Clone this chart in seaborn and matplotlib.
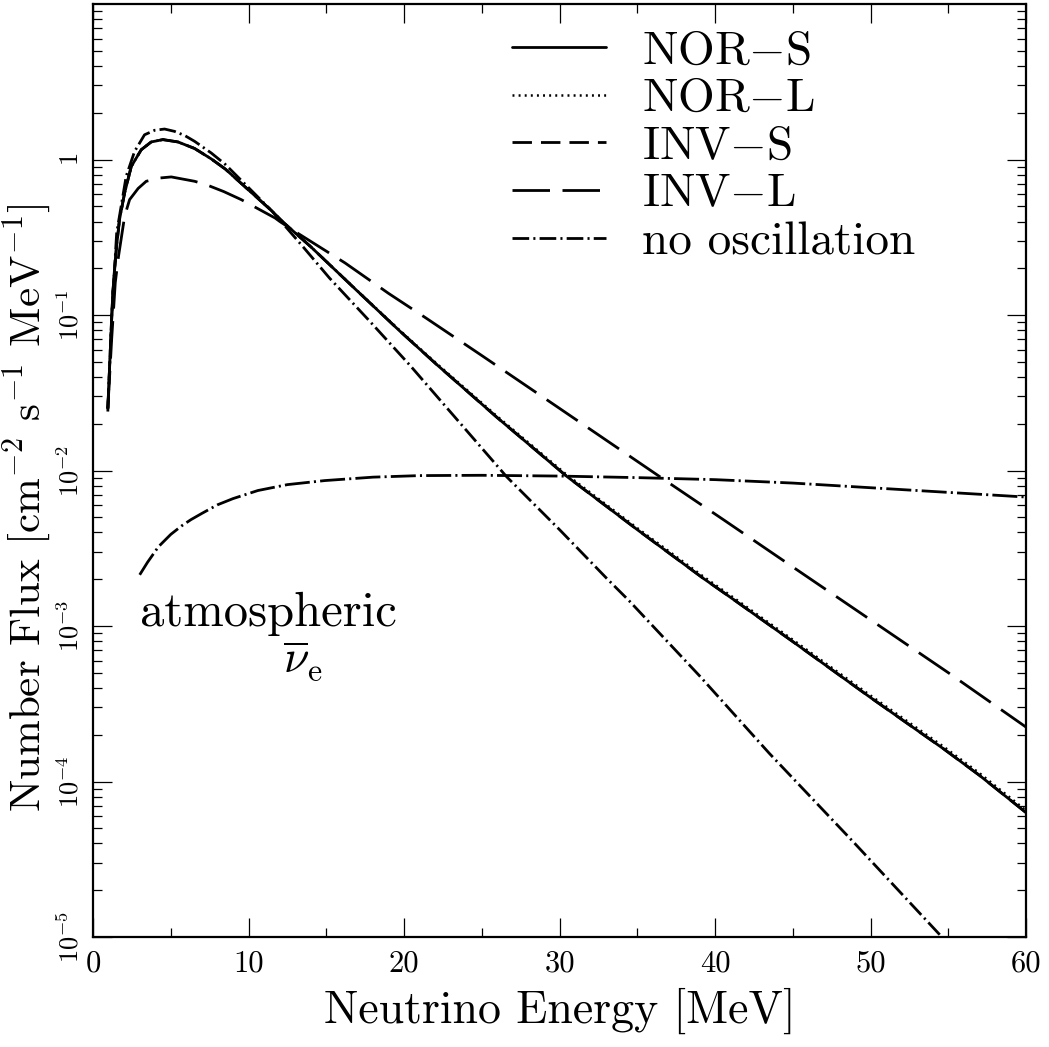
import numpy as np
import pandas as pd
import matplotlib
matplotlib.use("Agg")
import matplotlib.pyplot as plt
import matplotlib.ticker as mticker
import seaborn as sns

# ---------------- data ----------------
energy_nor = [0.95, 1.13, 1.27, 1.49, 1.70, 2.03, 2.46, 3.10, 3.74, 4.49, 5.46, 6.53,
              7.6, 8.5, 9.5, 10.5, 11.5, 12.2, 14.0, 16.9, 19.7, 22.1, 26.0, 30.45, 35.0,
              39.2, 41.2, 45.0, 50.0, 54.7, 57.0, 60.0]
log_nor_s = [-1.60, -1.18, -0.857, -0.58, -0.386, -0.214, -0.043, 0.064, 0.114, 0.129,
             0.114, 0.072, 0.005, -0.06, -0.15, -0.24, -0.33, -0.40, -0.56, -0.836, -1.10,
             -1.318, -1.66, -2.036, -2.38, -2.69, -2.83, -3.10, -3.46, -3.79, -3.96, -4.20]
log_nor_l = [-1.60, -1.18, -0.857, -0.58, -0.386, -0.214, -0.043, 0.064, 0.114, 0.129,
             0.114, 0.072, 0.005, -0.06, -0.15, -0.24, -0.33, -0.40, -0.56, -0.834, -1.096,
             -1.312, -1.652, -2.026, -2.37, -2.678, -2.818, -3.088, -3.447, -3.776, -3.946, -4.186]
log_inv_s = [-1.60, -1.18, -0.857, -0.58, -0.386, -0.214, -0.043, 0.064, 0.114, 0.129,
             0.114, 0.072, 0.005, -0.06, -0.15, -0.24, -0.33, -0.40, -0.56, -0.836, -1.10,
             -1.318, -1.66, -2.036, -2.38, -2.69, -2.83, -3.10, -3.46, -3.79, -3.96, -4.20]

energy_inv_l = [0.95, 1.2, 1.43, 1.64, 2.03, 2.35, 2.9, 3.42, 4.28, 5.03, 6.53, 7.28, 8.4,
                9.53, 11.7, 12.0, 12.97, 16.2, 19.0, 21.4, 25.0, 30.0, 36.9, 40.6, 45.0,
                50.0, 55.0, 60.0]
log_inv_l = [-1.60, -1.15, -0.79, -0.62, -0.364, -0.257, -0.185, -0.139, -0.118, -0.111,
             -0.139, -0.161, -0.205, -0.257, -0.375, -0.397, -0.461, -0.664, -0.86, -1.018,
             -1.26, -1.60, -2.07, -2.32, -2.62, -2.96, -3.30, -3.65]

energy_noosc = [0.95, 1.2, 1.52, 2.13, 2.67, 3.31, 3.96, 4.6, 5.24, 5.9, 6.53, 7.6, 8.5,
                9.5, 10.5, 11.5, 12.2, 13.5, 15.2, 17.8, 20.4, 23.0, 26.6, 30.0, 33.0,
                34.5, 39.0, 43.5, 49.0, 54.4, 55.0]
log_noosc = [-1.62, -1.0, -0.47, -0.107, 0.053, 0.16, 0.189, 0.197, 0.182, 0.155, 0.118,
             0.043, -0.03, -0.13, -0.23, -0.33, -0.41, -0.56, -0.761, -1.04, -1.325, -1.625,
             -2.04, -2.38, -2.69, -2.84, -3.32, -3.82, -4.40, -4.98, -5.05]

energy_atm = [3.0, 3.5, 4.2, 5.0, 5.7, 6.3, 7.0, 8.0, 9.0, 10.6, 12.5, 14.9, 18.0, 21.0,
              25.0, 30.0, 35.0, 40.0, 45.0, 50.0, 55.0, 60.0]
log_atm = [-2.67, -2.59, -2.49, -2.41, -2.355, -2.315, -2.275, -2.22, -2.18, -2.128,
           -2.09, -2.064, -2.042, -2.032, -2.03, -2.035, -2.045, -2.058, -2.08, -2.11,
           -2.14, -2.17]

series_labels = ["NOR$-$S", "NOR$-$L", "INV$-$S", "INV$-$L", "no oscillation"]
xticks = [0, 10, 20, 30, 40, 50, 60]
yticks = [1e-5, 1e-4, 1e-3, 1e-2, 1e-1, 1]
yticklabels = ["$10^{-5}$", "$10^{-4}$", "$10^{-3}$", "$10^{-2}$", "$10^{-1}$", "$1$"]

# ---------------- style ----------------
sns.set_theme(style="ticks")
plt.rcParams.update({
    "font.family": ["cmr10"],
    "mathtext.fontset": "cm",
    "axes.unicode_minus": False,
    "axes.formatter.use_mathtext": True,
    "lines.scale_dashes": False,
    "axes.linewidth": 1.6,
    "axes.edgecolor": "black",
    "text.color": "black",
    "axes.labelcolor": "black",
    "xtick.color": "black",
    "ytick.color": "black",
})

fig = plt.figure(figsize=(10.49, 10.47), dpi=100)
ax = fig.add_axes([0.0887, 0.105, 0.8895, 0.891])

def draw(e, logs, label, dashes, lw=2.0, z=2):
    df = pd.DataFrame({"E": e, "flux": np.power(10.0, logs)})
    sns.lineplot(data=df, x="E", y="flux", ax=ax, color="black", lw=lw,
                 label=label, sort=False, estimator=None, zorder=z)
    line = ax.lines[-1]
    if dashes is not None:
        line.set_dashes(dashes)
        line.set_dash_capstyle("butt")
    return line

l_invs = draw(energy_nor, log_inv_s, series_labels[2], (14, 6.5), z=1)
l_nors = draw(energy_nor, log_nor_s, series_labels[0], None, z=3)
l_norl = draw(energy_nor, log_nor_l, series_labels[1], (1.4, 3.0), lw=1.8, z=4)
l_invl = draw(energy_inv_l, log_inv_l, series_labels[3], (27, 9), z=2)
l_no = draw(energy_noosc, log_noosc, series_labels[4], (12, 3, 1.5, 3), z=2)
l_atm = draw(energy_atm, log_atm, None, (18, 3, 1.5, 3), z=2)

ax.set_yscale("log")
ax.set_xlim(0, 60)
ax.set_ylim(1e-5, 10)

ax.xaxis.set_major_locator(mticker.FixedLocator(xticks))
ax.xaxis.set_minor_locator(mticker.MultipleLocator(5))
ax.xaxis.set_major_formatter(mticker.FixedFormatter([str(t) for t in xticks]))
ax.yaxis.set_major_locator(mticker.FixedLocator(yticks))
ax.yaxis.set_major_formatter(mticker.FixedFormatter(yticklabels))
ax.yaxis.set_minor_locator(mticker.LogLocator(base=10, subs=np.arange(2, 10), numticks=20))
ax.yaxis.set_minor_formatter(mticker.NullFormatter())

ax.tick_params(which="both", direction="in", top=True, right=True, width=0.9, colors="black")
ax.tick_params(which="major", length=13.5)
ax.tick_params(which="minor", length=6.5)
ax.tick_params(axis="x", which="major", labelsize=22, pad=9)
ax.tick_params(axis="y", which="major", labelsize=19, pad=7)
for lab in ax.get_yticklabels():
    lab.set_rotation(90)
    lab.set_va("center")

ax.set_xlabel("Neutrino Energy [MeV]", fontsize=33, labelpad=8)
ax.set_ylabel("Number Flux [cm$^{-2}$ s$^{-1}$ MeV$^{-1}$]", fontsize=31)
ax.yaxis.set_label_coords(-0.042, 0.46)

ax.text(3.0, 1e-3, "atmospheric", fontsize=35, ha="left", va="baseline")
ax.text(12.2, 10 ** -3.3, r"$\overline{\nu}_{\rm e}$", fontsize=33, ha="left", va="baseline")

handles = [l_nors, l_norl, l_invs, l_invl, l_no]
leg = ax.legend(handles, series_labels, loc="upper left", bbox_to_anchor=(0.449, 0.972),
                frameon=False, fontsize=34, handlelength=2.0, handletextpad=0.75,
                labelspacing=0.12, borderpad=0, borderaxespad=0)

fig.savefig("out.png", dpi=100)
